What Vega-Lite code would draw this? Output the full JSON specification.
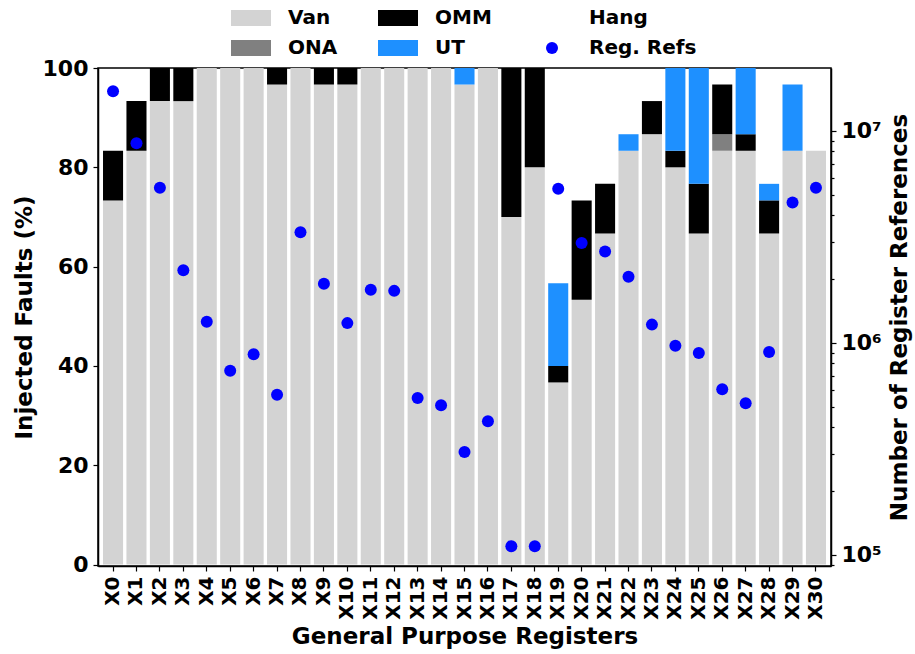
{
  "$schema": "https://vega.github.io/schema/vega-lite/v6.json",
  "width": 733,
  "height": 498,
  "autosize": {"type": "none"},
  "padding": {"left": 98, "top": 68, "right": 84, "bottom": 88},
  "config": {
    "font": "DejaVu Sans",
    "view": {"stroke": "black", "strokeWidth": 1.5},
    "axis": {
      "labelFont": "DejaVu Sans", "labelFontWeight": "bold", "labelColor": "black",
      "titleFont": "DejaVu Sans", "titleFontWeight": "bold", "titleColor": "black",
      "domainColor": "black", "domainWidth": 1.5, "tickColor": "black", "tickWidth": 1.2, "grid": false
    }
  },
  "datasets": {
    "regs": [
      {"reg": "X0", "Van": 73.33, "ONA": 0, "OMM": 10, "UT": 0, "refs": 15400000},
      {"reg": "X1", "Van": 83.33, "ONA": 0, "OMM": 10, "UT": 0, "refs": 8750000},
      {"reg": "X2", "Van": 93.33, "ONA": 0, "OMM": 6.67, "UT": 0, "refs": 5400000},
      {"reg": "X3", "Van": 93.33, "ONA": 0, "OMM": 6.67, "UT": 0, "refs": 2200000},
      {"reg": "X4", "Van": 100, "ONA": 0, "OMM": 0, "UT": 0, "refs": 1260000},
      {"reg": "X5", "Van": 100, "ONA": 0, "OMM": 0, "UT": 0, "refs": 740000},
      {"reg": "X6", "Van": 100, "ONA": 0, "OMM": 0, "UT": 0, "refs": 885000},
      {"reg": "X7", "Van": 96.67, "ONA": 0, "OMM": 3.33, "UT": 0, "refs": 570000},
      {"reg": "X8", "Van": 100, "ONA": 0, "OMM": 0, "UT": 0, "refs": 3330000},
      {"reg": "X9", "Van": 96.67, "ONA": 0, "OMM": 3.33, "UT": 0, "refs": 1900000},
      {"reg": "X10", "Van": 96.67, "ONA": 0, "OMM": 3.33, "UT": 0, "refs": 1240000},
      {"reg": "X11", "Van": 100, "ONA": 0, "OMM": 0, "UT": 0, "refs": 1780000},
      {"reg": "X12", "Van": 100, "ONA": 0, "OMM": 0, "UT": 0, "refs": 1760000},
      {"reg": "X13", "Van": 100, "ONA": 0, "OMM": 0, "UT": 0, "refs": 550000},
      {"reg": "X14", "Van": 100, "ONA": 0, "OMM": 0, "UT": 0, "refs": 508000},
      {"reg": "X15", "Van": 96.67, "ONA": 0, "OMM": 0, "UT": 3.33, "refs": 306000},
      {"reg": "X16", "Van": 100, "ONA": 0, "OMM": 0, "UT": 0, "refs": 427000},
      {"reg": "X17", "Van": 70, "ONA": 0, "OMM": 30, "UT": 0, "refs": 110000},
      {"reg": "X18", "Van": 80, "ONA": 0, "OMM": 20, "UT": 0, "refs": 110000},
      {"reg": "X19", "Van": 36.67, "ONA": 0, "OMM": 3.33, "UT": 16.67, "refs": 5340000},
      {"reg": "X20", "Van": 53.33, "ONA": 0, "OMM": 20, "UT": 0, "refs": 2960000},
      {"reg": "X21", "Van": 66.67, "ONA": 0, "OMM": 10, "UT": 0, "refs": 2700000},
      {"reg": "X22", "Van": 83.33, "ONA": 0, "OMM": 0, "UT": 3.33, "refs": 2050000},
      {"reg": "X23", "Van": 86.67, "ONA": 0, "OMM": 6.67, "UT": 0, "refs": 1220000},
      {"reg": "X24", "Van": 80, "ONA": 0, "OMM": 3.33, "UT": 16.67, "refs": 970000},
      {"reg": "X25", "Van": 66.67, "ONA": 0, "OMM": 10, "UT": 23.33, "refs": 897000},
      {"reg": "X26", "Van": 83.33, "ONA": 3.33, "OMM": 10, "UT": 0, "refs": 605000},
      {"reg": "X27", "Van": 83.33, "ONA": 0, "OMM": 3.33, "UT": 13.33, "refs": 520000},
      {"reg": "X28", "Van": 66.67, "ONA": 0, "OMM": 6.67, "UT": 3.33, "refs": 907000},
      {"reg": "X29", "Van": 83.33, "ONA": 0, "OMM": 0, "UT": 13.33, "refs": 4590000},
      {"reg": "X30", "Van": 83.33, "ONA": 0, "OMM": 0, "UT": 0, "refs": 5400000}
    ],
    "levels": [
      {"type": "Van", "lvl": 1},
      {"type": "ONA", "lvl": 2},
      {"type": "OMM", "lvl": 3},
      {"type": "UT", "lvl": 4}
    ]
  },
  "data": {"name": "regs"},
  "layer": [
    {
      "transform": [
        {"fold": ["Van", "ONA", "OMM", "UT"], "as": ["type", "pct"]},
        {"lookup": "type", "from": {"data": {"name": "levels"}, "key": "type", "fields": ["lvl"]}}
      ],
      "mark": {"type": "bar", "strokeWidth": 0},
      "encoding": {
        "x": {
          "field": "reg", "type": "nominal", "sort": null,
          "scale": {"paddingInner": 0.144, "paddingOuter": 0.214},
          "axis": {
            "title": "General Purpose Registers", "titleFontSize": 23, "titlePadding": 6,
            "labelAngle": 270, "labelFontSize": 20, "labelPadding": 5, "tickSize": 5
          }
        },
        "y": {
          "field": "pct", "type": "quantitative", "stack": "zero",
          "scale": {"domain": [-0.3, 100], "nice": false, "zero": false},
          "axis": {
            "title": "Injected Faults (%)", "titleFontSize": 23, "titlePadding": 6,
            "values": [0, 20, 40, 60, 80, 100], "labelFontSize": 22, "labelPadding": 5, "tickSize": 5
          }
        },
        "color": {
          "field": "type", "type": "nominal",
          "scale": {
            "domain": ["Van", "ONA", "OMM", "UT", "Hang", "Reg. Refs"],
            "range": ["#d3d3d3", "#808080", "#000000", "#1e90ff", "#ffffff", "#0000ff"]
          },
          "legend": {
            "orient": "none", "legendX": 133, "legendY": -70, "columns": 3,
            "columnPadding": 40, "rowPadding": -4, "padding": 0, "title": null,
            "symbolType": "M-1,-0.4L1,-0.4L1,0.4L-1,0.4Z", "symbolSize": 1600,
            "symbolStrokeWidth": 0, "symbolOpacity": 1,
            "labelFont": "DejaVu Sans", "labelFontWeight": "bold", "labelFontSize": 20,
            "labelColor": "black", "labelOffset": 17,
            "encode": {
              "symbols": {
                "update": {
                  "shape": {"signal": "datum.label === 'Reg. Refs' ? 'circle' : 'M-1,-0.4L1,-0.4L1,0.4L-1,0.4Z'"},
                  "size": {"signal": "datum.label === 'Reg. Refs' ? 144 : 1600"}
                }
              }
            }
          }
        },
        "order": {"field": "lvl", "type": "quantitative"}
      }
    },
    {
      "mark": {"type": "point", "filled": true, "opacity": 1, "size": 144, "shape": "circle"},
      "encoding": {
        "x": {"field": "reg", "type": "nominal", "sort": null},
        "y": {
          "field": "refs", "type": "quantitative",
          "scale": {"type": "log", "domain": [88700, 19800000], "nice": false},
          "axis": {
            "orient": "right", "title": "Number of Register References", "titleFontSize": 23,
            "titleAngle": 270, "titleBaseline": "top", "titlePadding": 7,
            "values": [90000, 100000, 200000, 300000, 400000, 500000, 600000, 700000, 800000, 900000, 1000000, 2000000, 3000000, 4000000, 5000000, 6000000, 7000000, 8000000, 9000000, 10000000],
            "labelExpr": "datum.value == 100000 ? '10⁵' : datum.value == 1000000 ? '10⁶' : datum.value == 10000000 ? '10⁷' : ''",
            "labelFontSize": 22, "labelPadding": 5,
            "tickSize": {"condition": {"test": "datum.value == 100000 || datum.value == 1000000 || datum.value == 10000000", "value": 5}, "value": 3}
          }
        },
        "color": {"datum": "Reg. Refs", "type": "nominal"}
      }
    }
  ],
  "resolve": {"scale": {"y": "independent"}}
}
